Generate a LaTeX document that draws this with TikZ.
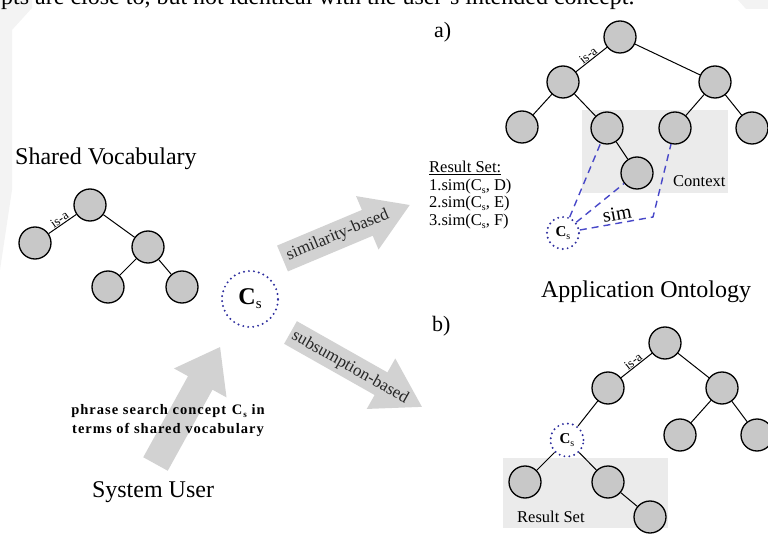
\documentclass[tikz,border=0pt]{standalone}
\usepackage{fontspec}
\setmainfont{Liberation Serif}
\newfontfamily\phrasefont[LetterSpace=7]{Liberation Serif}
\definecolor{nodegray}{HTML}{C8C8C8}
\definecolor{arrowgray}{HTML}{D2D2D2}
\definecolor{boxgray}{HTML}{EBEBEB}
\definecolor{csblue}{HTML}{2E2E9E}
\definecolor{simblue}{HTML}{4848C8}
\definecolor{wmgray}{HTML}{F3F3F3}
\newcommand{\csub}[1]{\raisebox{-0.35ex}{\fontsize{#1}{#1}\selectfont s}}
\begin{document}
\begin{tikzpicture}[x=1pt,y=-1pt,
  cnode/.style={circle, draw=black, line width=1.3pt, fill=nodegray, minimum size=32pt, inner sep=0pt},
  edge/.style={draw=black, line width=1pt},
  csnode/.style={circle, draw=csblue, line width=2.2pt, line cap=round, dash pattern=on 0pt off 5pt, inner sep=0pt},
  simline/.style={draw=simblue, line width=1.4pt, dash pattern=on 7pt off 5pt},
  isa/.style={font=\fontsize{13}{13}\selectfont, sloped, above, inner sep=0.6pt},
  big/.style={font=\fontsize{24}{28}\selectfont, inner sep=0pt},
  mid/.style={font=\fontsize{16.5}{18}\selectfont, inner sep=0pt},
  arrowtext/.style={font=\fontsize{17}{19}\selectfont, inner sep=0pt, text=black!85},
  graybox/.style={fill=boxgray, draw=none},
  blockarrow/.style={fill=arrowgray, draw=none}]
\useasboundingbox (0,0) rectangle (768,537);
\clip (0,0) rectangle (768,537);

% faint background shapes
\fill[wmgray] (0,0) -- (32,0) -- (32,8) -- (12,30) -- (12,190) -- (0,270) -- cycle;
\fill[wmgray] (738,0) -- (768,0) -- (768,9) -- (746,9) -- cycle;

% top text (cut)
\node[big, anchor=base west] (toptext) at (1,5) {pts are close to, but not identical with the user's intended concept.};

% ---------- block arrows ----------
\begin{scope}[shift={(282.5,258.5)}, rotate=22.8]
  \fill[blockarrow] (0,-14) -- (92,-14) -- (92,-29) -- (138,0) -- (92,29) -- (92,14) -- (0,14) -- cycle;
\end{scope}
\begin{scope}[shift={(290.5,332.5)}, rotate=-29.5]
  \fill[blockarrow] (0,-13) -- (104,-13) -- (104,-29) -- (151,0) -- (104,29) -- (104,13) -- (0,13) -- cycle;
\end{scope}
\begin{scope}[shift={(155.5,464)}, rotate=61.1]
  \fill[blockarrow] (0,-14) -- (92.6,-14) -- (92.6,-30) -- (133.6,0) -- (92.6,30) -- (92.6,14) -- (0,14) -- cycle;
\end{scope}
\node[arrowtext, rotate=22.8] (simtext) at (337.8,235.3) {similarity-based};
\node[arrowtext, rotate=-29.5] (subtext) at (350,367.5) {subsumption-based};

% ---------- shared vocabulary ----------
\node[big, anchor=base west] (svlabel) at (15,165) {Shared Vocabulary};
\node[cnode] (sv0) at (90,205) {};
\node[cnode] (sv1) at (35,243) {};
\node[cnode] (sv2) at (148,247) {};
\node[cnode] (sv3) at (108,287) {};
\node[cnode] (sv4) at (182,287) {};
\draw[edge] (sv0) -- node[isa] {is-a} (sv1);
\draw[edge] (sv0) -- (sv2);
\draw[edge] (sv2) -- (sv3);
\draw[edge] (sv2) -- (sv4);

% central search concept
\node[csnode, minimum size=56pt] (cs) at (250,299) {\fontsize{24}{24}\selectfont\textbf{C}\csub{15}};

% user
\node[font=\phrasefont\bfseries\fontsize{14.5}{19}\selectfont, align=center, inner sep=0pt] (phrase) at (168,421)
  {phrase search concept \textbf{C}\csub{9} in\\terms of shared vocabulary};
\node[big, anchor=base] (user) at (153,497) {System User};

% ---------- a) application ontology ----------
\node[font=\fontsize{22}{22}\selectfont, anchor=base west, inner sep=0pt] (alabel) at (434,38) {a)};
\fill[graybox] (582,110) rectangle (728,193);
\node[mid, anchor=base west] (context) at (673,187) {Context};
\node[cnode] (a0) at (620,37) {};
\node[cnode] (a1) at (563,82) {};
\node[cnode] (a2) at (715,82) {};
\node[cnode] (a3) at (522,127) {};
\node[cnode] (a4) at (607,128) {};
\node[cnode] (a5) at (675,128) {};
\node[cnode] (a6) at (752,128) {};
\node[cnode] (a7) at (637,173) {};
\draw[edge] (a0) -- node[isa] {is-a} (a1);
\draw[edge] (a0) -- (a2);
\draw[edge] (a1) -- (a3);
\draw[edge] (a1) -- (a4);
\draw[edge] (a4) -- (a7);
\draw[edge] (a2) -- (a5);
\draw[edge] (a2) -- (a6);
\node[csnode, minimum size=32pt] (csa) at (563,233) {\fontsize{15}{15}\selectfont\textbf{C}\csub{10}};
\coordinate (simcorner) at (653,217);
\draw[simline] (csa) -- (a4);
\draw[simline] (csa) -- (a7);
\draw[simline] (csa) -- (simcorner) -- (a5);
\node[font=\fontsize{20}{20}\selectfont, inner sep=0pt, rotate=10] (simlabel) at (617,214) {sim};
\node[big, anchor=base] (applabel) at (646,298) {Application Ontology};

% result set list
\node[mid, anchor=base west] (rs0) at (429,173) {\underline{Result Set:}};
\node[mid, anchor=base west] (rs1) at (429,190.5) {1.sim(C\csub{10}, D)};
\node[mid, anchor=base west] (rs2) at (429,208) {2.sim(C\csub{10}, E)};
\node[mid, anchor=base west] (rs3) at (429,225.5) {3.sim(C\csub{10}, F)};

% ---------- b) subsumption ----------
\node[font=\fontsize{22}{22}\selectfont, anchor=base west, inner sep=0pt] (blabel) at (432,331) {b)};
\fill[graybox] (503,458) rectangle (668,528);
\node[mid, anchor=base west] (rsb) at (517,522) {Result Set};
\node[cnode] (b0) at (665,343) {};
\node[cnode] (b1) at (608,388) {};
\node[cnode] (b2) at (722,388) {};
\node[cnode] (b3) at (680,435) {};
\node[cnode] (b4) at (757,435) {};
\node[csnode, minimum size=33pt] (bcs) at (567,440) {\fontsize{15}{15}\selectfont\textbf{C}\csub{10}};
\node[cnode] (b5) at (525,482) {};
\node[cnode] (b6) at (608,482) {};
\node[cnode] (b7) at (650,517) {};
\draw[edge] (b0) -- node[isa] {is-a} (b1);
\draw[edge] (b0) -- (b2);
\draw[edge] (b2) -- (b3);
\draw[edge] (b2) -- (b4);
\draw[edge] (b1) -- (bcs);
\draw[edge] (bcs) -- (b5);
\draw[edge] (bcs) -- (b6);
\draw[edge] (b6) -- (b7);
\end{tikzpicture}
\end{document}
